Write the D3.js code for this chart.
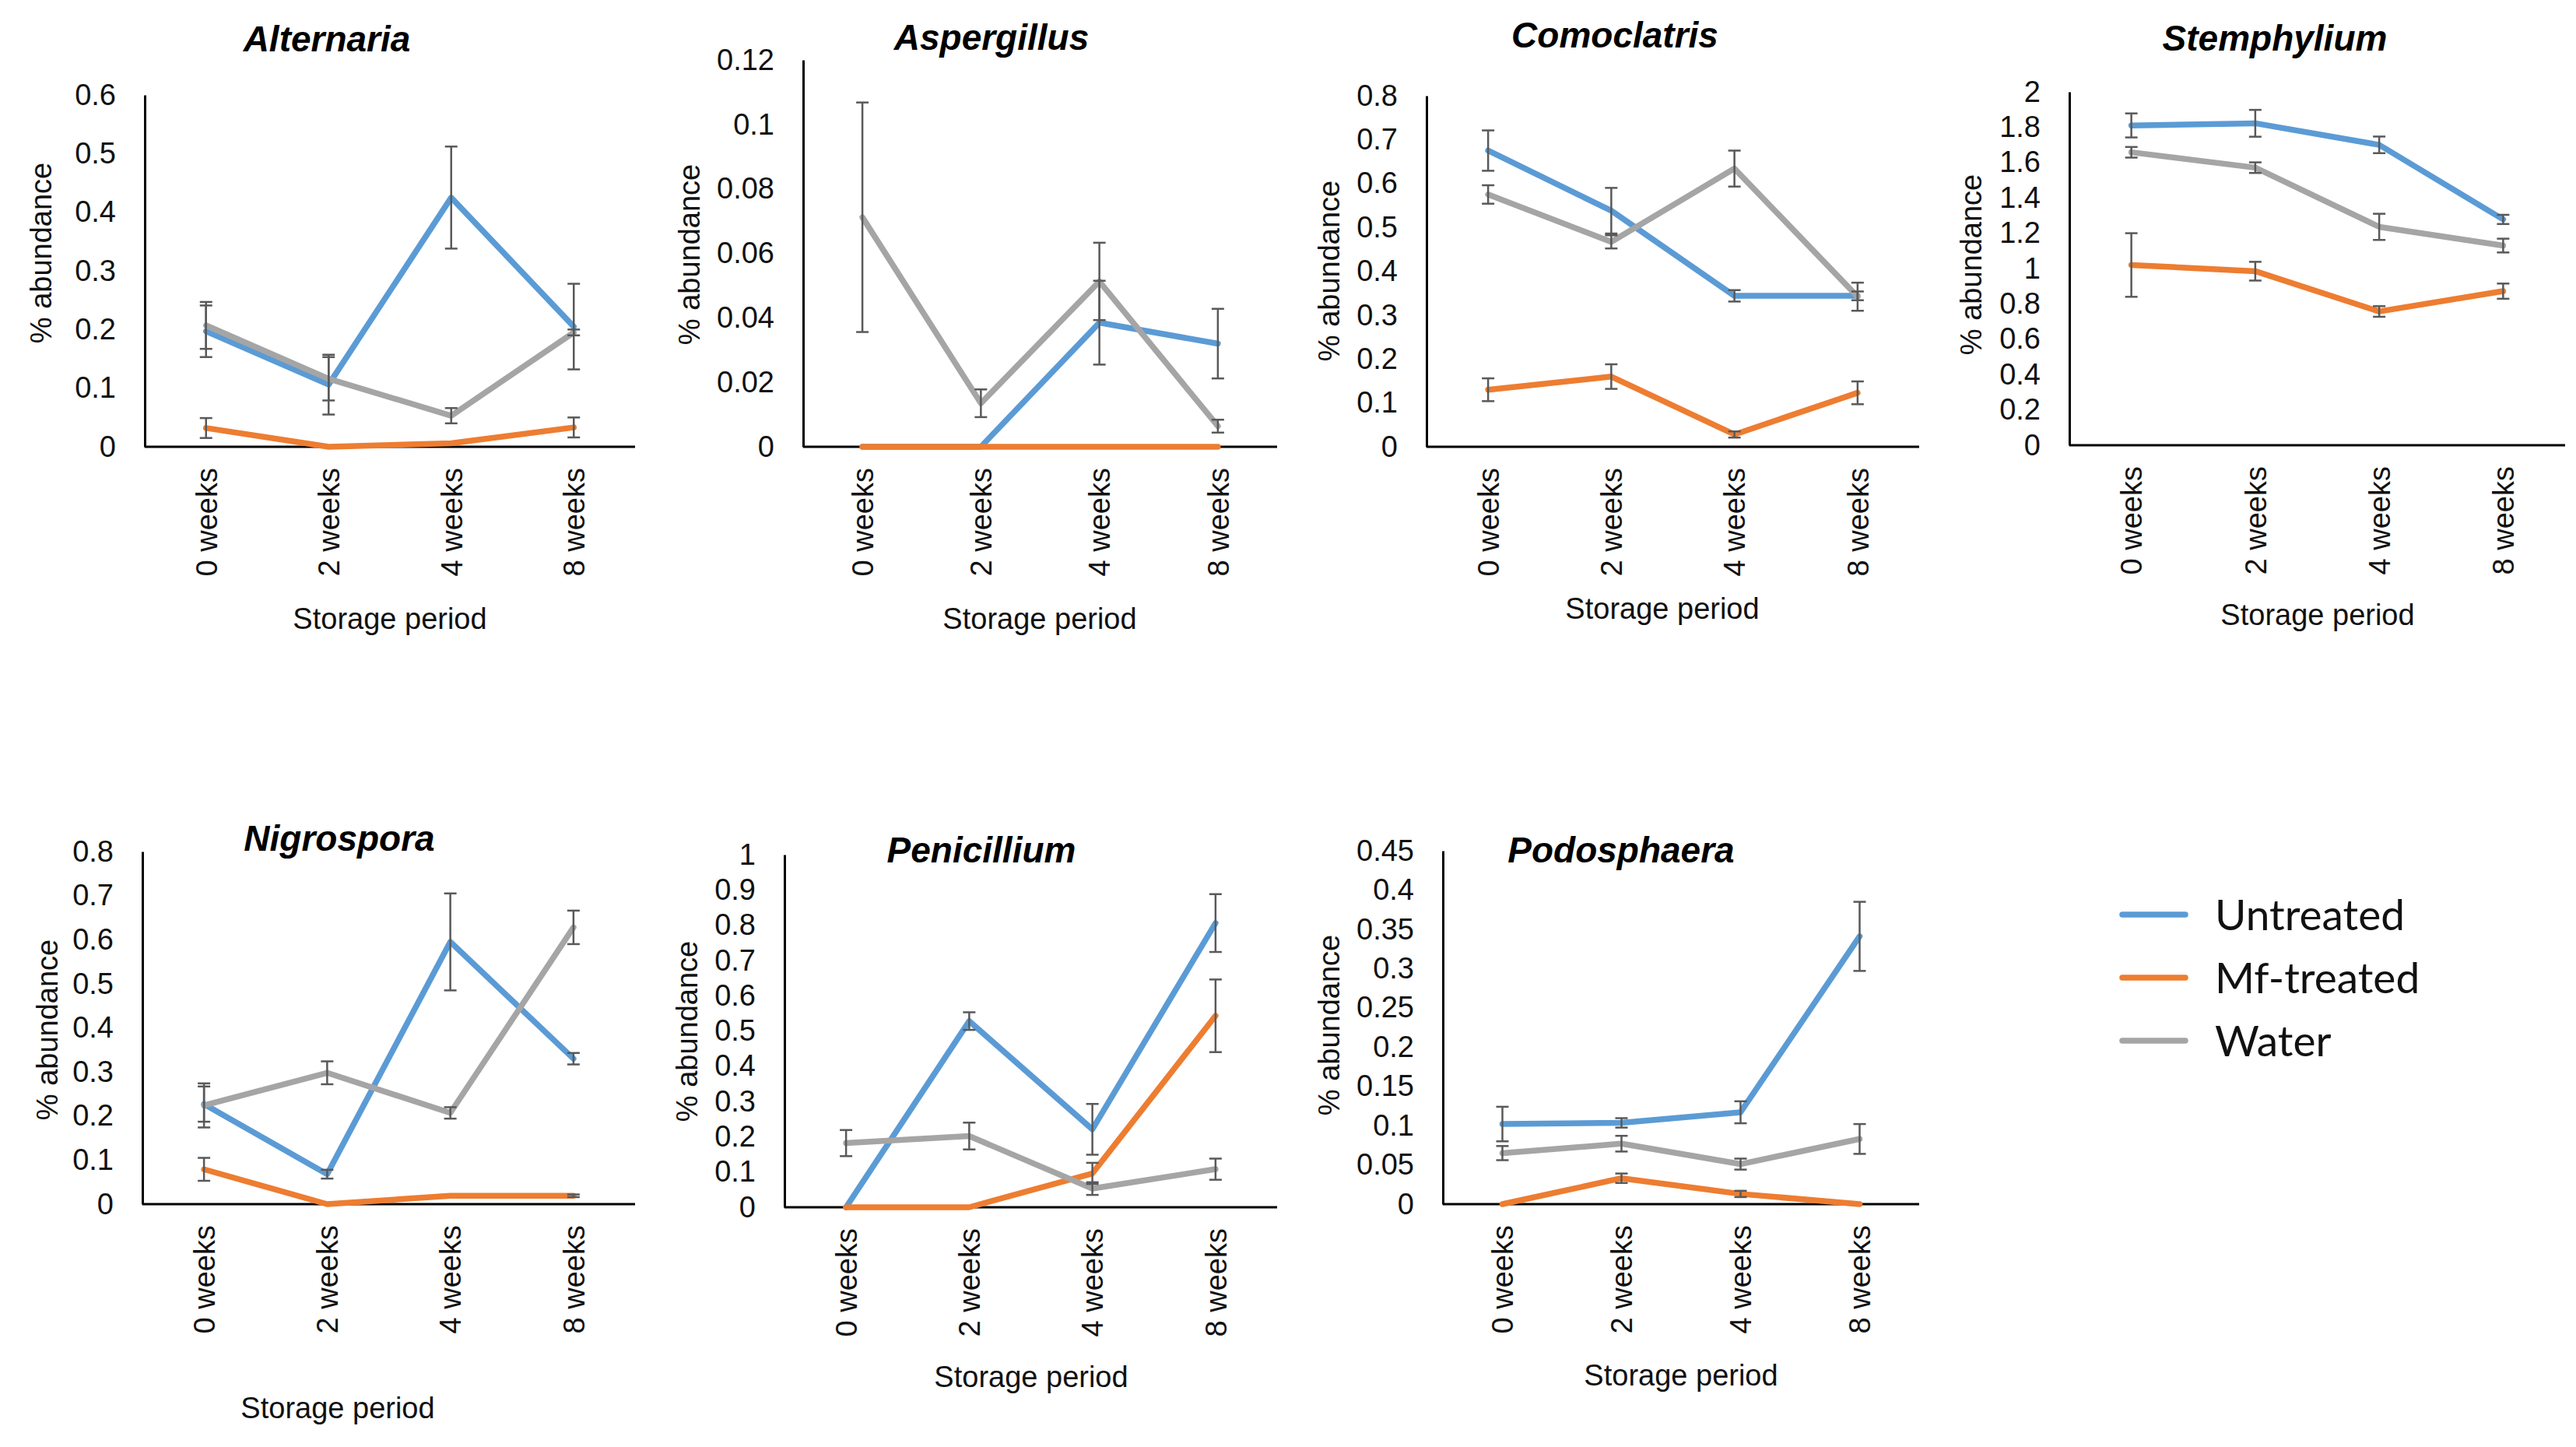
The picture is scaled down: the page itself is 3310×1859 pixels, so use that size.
<!DOCTYPE html>
<html>
<head>
<meta charset="utf-8">
<script src="https://cdn.jsdelivr.net/npm/d3@7"></script>
<style>
  body { margin: 0; background: #fff; }
  text { font-family: "Liberation Sans", Arial, sans-serif; }
</style>
</head>
<body>
<script>
// categories and series
var weeks = ["0 weeks", "2 weeks", "4 weeks", "8 weeks"];
var genera = ["Alternaria", "Aspergillus", "Comoclatris", "Stemphylium", "Nigrospora", "Penicillium", "Podosphaera"];
var seriesNames = ["Untreated", "Mf-treated", "Water"];

// mean % abundance per genus, one row per genus
var untreated = [
    [0.197, 0.106, 0.425, 0.205],
    [0, 0, 0.0385, 0.032],
    [0.675, 0.538, 0.344, 0.344],
    [1.81, 1.822, 1.70, 1.278],
    [0.227, 0.068, 0.595, 0.33],
    [0, 0.528, 0.221, 0.806],
    [0.102, 0.1035, 0.117, 0.341]
];
var mfTreated = [
    [0.032, 0, 0.006, 0.033],
    [0, 0, 0, 0],
    [0.130, 0.160, 0.028, 0.123],
    [1.02, 0.985, 0.757, 0.872],
    [0.079, 0, 0.019, 0.019],
    [0, 0, 0.096, 0.543],
    [0, 0.033, 0.013, 0]
];
var water = [
    [0.207, 0.116, 0.053, 0.195],
    [0.0712, 0.0135, 0.0513, 0.0064],
    [0.575, 0.467, 0.634, 0.342],
    [1.658, 1.571, 1.236, 1.13],
    [0.224, 0.298, 0.207, 0.628],
    [0.182, 0.202, 0.053, 0.108],
    [0.065, 0.077, 0.051, 0.083]
];

// error bar half-lengths
var untreatedErr = [
    [0.044, 0.051, 0.087, 0.073],
    [0, 0, 0.013, 0.0108],
    [0.046, 0.052, 0.013, 0.01],
    [0.068, 0.076, 0.047, 0.026],
    [0.04, 0.01, 0.11, 0.013],
    [0, 0.025, 0.072, 0.082],
    [0.022, 0.006, 0.014, 0.044]
];
var mfErr = [
    [0.017, 0, 0, 0.017],
    [0, 0, 0, 0],
    [0.026, 0.028, 0.007, 0.026],
    [0.18, 0.053, 0.03, 0.043],
    [0.026, 0, 0, 0.003],
    [0, 0, 0.03, 0.103],
    [0, 0.006, 0.004, 0]
];
var waterErr = [
    [0.04, 0.037, 0.013, 0.005],
    [0.0356, 0.0043, 0.012, 0.002],
    [0.021, 0.015, 0.041, 0.032],
    [0.03, 0.03, 0.074, 0.039],
    [0.05, 0.026, 0.013, 0.038],
    [0.037, 0.038, 0.018, 0.03],
    [0.009, 0.01, 0.007, 0.019]
];

// y axis maximum and tick step per genus
var yMax = [0.6, 0.12, 0.8, 2, 0.8, 1, 0.45];
var yStep = [0.1, 0.02, 0.1, 0.2, 0.1, 0.1, 0.05];

var colors = ["#5b9bd5", "#ed7d31", "#a5a5a5"];
var values = [untreated, mfTreated, water];
var errors = [untreatedErr, mfErr, waterErr];

// plot areas (px)
var layout = [
    {left: 186, right: 816, top: 122, bottom: 574, tx: 420, ty: 66, ylx: 53, yly: 325, xlx: 501, xly: 808},
    {left: 1032, right: 1641, top: 77, bottom: 574, tx: 1274, ty: 64, ylx: 886, yly: 327, xlx: 1336, xly: 808},
    {left: 1833, right: 2466, top: 123, bottom: 574, tx: 2075, ty: 61, ylx: 1708, yly: 348, xlx: 2136, xly: 795},
    {left: 2659, right: 3296, top: 118, bottom: 572, tx: 2923, ty: 65, ylx: 2533, yly: 340, xlx: 2978, xly: 803},
    {left: 183, right: 816, top: 1094, bottom: 1547, tx: 436, ty: 1093, ylx: 61, yly: 1323, xlx: 434, xly: 1822},
    {left: 1008, right: 1641, top: 1098, bottom: 1551, tx: 1261, ty: 1108, ylx: 883, yly: 1325, xlx: 1325, xly: 1782},
    {left: 1854, right: 2466, top: 1093, bottom: 1547, tx: 2083, ty: 1108, ylx: 1708, yly: 1317, xlx: 2160, xly: 1780}
];

var svg = d3.select("body").append("svg")
    .attr("width", 3310)
    .attr("height", 1859);

genera.forEach(function(name, i) {
    var L = layout[i];
    var g = svg.append("g");

    var x = d3.scalePoint().domain(weeks).range([L.left, L.right]).padding(0.5);
    var y = d3.scaleLinear().domain([0, yMax[i]]).range([L.bottom, L.top]);

    var ticks = d3.range(0, yMax[i] + yStep[i] / 2, yStep[i]).map(function(v) { return +v.toFixed(4); });

    // y axis
    var yAxis = g.append("g")
        .attr("transform", "translate(" + L.left + ",0)")
        .call(d3.axisLeft(y).tickValues(ticks).tickSize(0).tickPadding(37)
              .tickFormat(function(d) { return String(d); }));
    yAxis.select(".domain").attr("stroke", "#000").attr("stroke-width", 3);
    yAxis.selectAll("text")
        .attr("font-size", 38)
        .attr("fill", "#111")
        .style("font-family", "Liberation Sans, Arial, sans-serif");

    // x axis with rotated labels
    var xAxis = g.append("g")
        .attr("transform", "translate(0," + L.bottom + ")")
        .call(d3.axisBottom(x).tickSize(0));
    xAxis.select(".domain")
        .attr("d", "M" + L.left + ",0H" + L.right)
        .attr("stroke", "#000").attr("stroke-width", 3);
    xAxis.selectAll("text")
        .attr("transform", "rotate(-90)")
        .attr("text-anchor", "end")
        .attr("x", -27)
        .attr("y", 0)
        .attr("dy", "0.35em")
        .attr("font-size", 38)
        .attr("fill", "#111")
        .style("font-family", "Liberation Sans, Arial, sans-serif");

    // lines
    var line = d3.line()
        .x(function(d, j) { return x(weeks[j]); })
        .y(function(d) { return y(d); });

    values.forEach(function(series, s) {
        g.append("path")
            .datum(series[i])
            .attr("d", line)
            .attr("fill", "none")
            .attr("stroke", colors[s])
            .attr("stroke-width", 7.5)
            .attr("stroke-linejoin", "round")
            .attr("stroke-linecap", "round");
    });

    // error bars
    values.forEach(function(series, s) {
        series[i].forEach(function(v, j) {
            var e = errors[s][i][j];
            if (!e) return;
            var cx = x(weeks[j]);
            var eb = g.append("g").attr("stroke", "#595959").attr("stroke-width", 2.5);
            eb.append("line").attr("x1", cx).attr("x2", cx).attr("y1", y(v + e)).attr("y2", y(v - e));
            eb.append("line").attr("x1", cx - 8).attr("x2", cx + 8).attr("y1", y(v + e)).attr("y2", y(v + e));
            eb.append("line").attr("x1", cx - 8).attr("x2", cx + 8).attr("y1", y(v - e)).attr("y2", y(v - e));
        });
    });

    // titles
    g.append("text")
        .attr("x", L.tx).attr("y", L.ty)
        .attr("text-anchor", "middle")
        .attr("font-size", 46)
        .attr("font-weight", "bold")
        .attr("font-style", "italic")
        .text(name);

    g.append("text")
        .attr("transform", "translate(" + L.ylx + "," + L.yly + ") rotate(-90)")
        .attr("text-anchor", "middle")
        .attr("dy", "0.35em")
        .attr("font-size", 38)
        .attr("fill", "#111")
        .text("% abundance");

    g.append("text")
        .attr("x", L.xlx).attr("y", L.xly)
        .attr("text-anchor", "middle")
        .attr("font-size", 38)
        .attr("fill", "#111")
        .text("Storage period");
});

// legend
var legend = svg.append("g");
seriesNames.forEach(function(n, s) {
    var ly = 1175 + s * 81;
    legend.append("line")
        .attr("x1", 2727).attr("x2", 2808)
        .attr("y1", ly).attr("y2", ly)
        .attr("stroke", colors[s])
        .attr("stroke-width", 7.5)
        .attr("stroke-linecap", "round");
    legend.append("text")
        .attr("x", 2846).attr("y", ly)
        .attr("dy", "0.36em")
        .attr("font-size", 55)
        .attr("fill", "#111")
        .style("font-family", "Lato, 'Open Sans', sans-serif")
        .text(n);
});
</script>
</body>
</html>
